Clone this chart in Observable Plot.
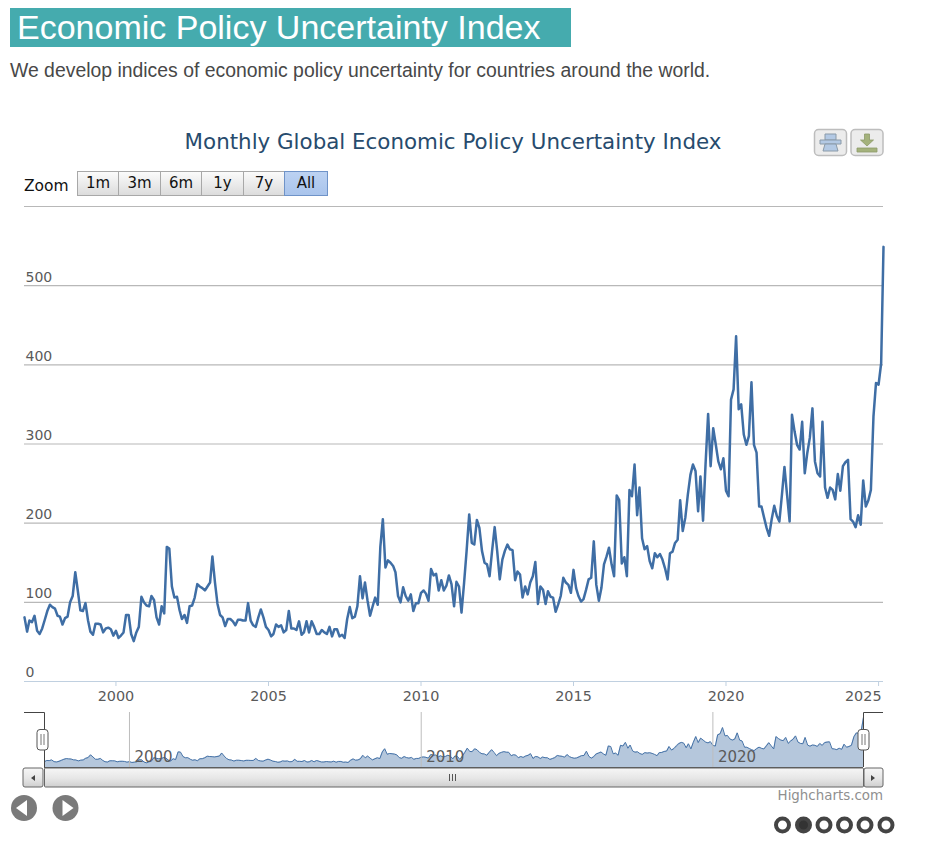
<!DOCTYPE html>
<html><head><meta charset="utf-8">
<script src="https://cdn.jsdelivr.net/npm/d3@7"></script>
<script src="https://cdn.jsdelivr.net/npm/@observablehq/plot@0.6"></script>
<style>
html,body{margin:0;padding:0;background:#fff;}
body{width:936px;height:849px;position:relative;overflow:hidden;font-family:"DejaVu Sans",sans-serif;}
.abs{position:absolute;}
#head{left:10px;top:8px;width:561px;height:39px;background:#45abae;color:#fff;font:34px/39px "Liberation Sans",sans-serif;padding-left:7px;box-sizing:border-box;white-space:nowrap;}
#sub{left:10px;top:59px;color:#484848;font:19.4px/22px "Liberation Sans",sans-serif;white-space:nowrap;}
#title{left:0;top:129px;width:906px;text-align:center;color:#274b6d;font-size:21.4px;line-height:26px;white-space:nowrap;}
#zoomlab{left:24px;top:176px;font-size:15.5px;line-height:20px;color:#111;}
.btn{top:171px;height:25px;box-sizing:border-box;border:1px solid #a8a8a8;background:linear-gradient(#fbfbfb,#dcdcdc);font-size:15px;line-height:23px;text-align:center;color:#111;}
.btn.on{background:linear-gradient(#bcd2f2,#a9c4ec);border-color:#6f93c8;}
#credit{right:53px;top:788px;color:#8f8f8f;font-size:13.4px;line-height:16px;white-space:nowrap;}
.abs svg{display:block;}
</style></head><body>
<div class="abs" id="head">Economic Policy Uncertainty Index</div>
<div class="abs" id="sub">We develop indices of economic policy uncertainty for countries around the world.</div>
<div class="abs" id="title">Monthly Global Economic Policy Uncertainty Index</div>
<div class="abs" id="zoomlab">Zoom</div>
<div id="btns"></div>
<div class="abs" id="main" style="left:0;top:194.5px"></div>
<div class="abs" id="nav" style="left:0;top:705px"></div>
<svg class="abs" style="left:0;top:0;pointer-events:none" width="936" height="849" id="chrome">
  <defs>
    <linearGradient id="sb" x1="0" x2="0" y1="0" y2="1"><stop offset="0" stop-color="#f6f6f6"/><stop offset="0.55" stop-color="#e6e6e6"/><stop offset="1" stop-color="#cfcfcf"/></linearGradient>
  </defs>
  <!-- export buttons -->
  <g fill="none" stroke="#bdbdbd" stroke-width="1.5">
    <rect x="814.5" y="129.5" width="32" height="26" rx="4" fill="#ececec"/>
    <rect x="851" y="129.5" width="32" height="26" rx="4" fill="#ececec"/>
  </g>
  <g stroke="#8a9aa8" stroke-width="1" fill="#b3c9e4">
    <path d="M825 134h11v6h-11z"/><path d="M820 140h21v4h-21z"/><path d="M825 144h11l2 7h-15z"/>
  </g>
  <g fill="#a4b27c" stroke="#8d9a6a" stroke-width="0.8">
    <path d="M864.5 134h5v6h4l-6.5 6-6.500-6h4z"/><path d="M857 148h20v4h-20z"/>
  </g>
  <!-- navigator outline -->
  <path d="M24 712.500H44.500V767" fill="none" stroke="#444" stroke-width="1"/>
  <path d="M863.500 767V712.500H883" fill="none" stroke="#444" stroke-width="1"/>
  <path d="M44 767.500H863" stroke="#555" stroke-width="1"/>
  <!-- scrollbar -->
  <rect x="44.500" y="768" width="819" height="19" rx="1" fill="url(#sb)" stroke="#666"/>
  <rect x="23" y="768" width="20" height="19" rx="2" fill="url(#sb)" stroke="#666"/>
  <rect x="864" y="768" width="19" height="19" rx="2" fill="url(#sb)" stroke="#666"/>
  <path d="M35 775v6l-4-3z M871 775v6l4-3z" fill="#444"/>
  <path d="M449.500 774v7M452.500 774v7M455.500 774v7" stroke="#555" stroke-width="1"/>
  <!-- handles -->
  <g fill="#fff" stroke="#555" stroke-width="1">
    <rect x="37" y="729.500" width="11" height="20.500" rx="3"/>
    <rect x="858" y="729.500" width="11" height="20.500" rx="3"/>
  </g>
  <path d="M41 734v11M44 734v11M862 734v11M865 734v11" stroke="#777" stroke-width="1"/>
  <!-- slideshow arrows -->
  <circle cx="24" cy="808" r="13" fill="#7a7a7a"/><path d="M16 808l11-8v16z" fill="#fff"/>
  <circle cx="65.500" cy="808" r="13" fill="#7a7a7a"/><path d="M73.500 808l-11-8v16z" fill="#fff"/>
  <!-- slideshow dots -->
  <g fill="#fff" stroke="#444" stroke-width="4">
    <circle cx="782.500" cy="825" r="6.500"/><circle cx="803.500" cy="825" r="6.500" fill="#333"/><circle cx="824" cy="825" r="6.500"/>
    <circle cx="844.500" cy="825" r="6.500"/><circle cx="865" cy="825" r="6.500"/><circle cx="886" cy="825" r="6.500"/>
  </g>
</svg>
<div class="abs" id="credit">Highcharts.com</div>
<script>
// Monthly index values
const v1997 = [81,63,77,75,83,64,60,67,78,89,97,94];
const v1998 = [92,83,82,72,80,82,100,108,138,115,90,89];
const v1999 = [99,77,63,59,73,73,72,62,67,68,66,58];
const v2000 = [64,55,58,62,84,84,60,51,62,69,107,100];
const v2001 = [96,95,108,103,81,72,95,86,170,168,120,106];
const v2002 = [107,90,79,84,74,95,96,106,123,120,118,115];
const v2003 = [120,125,158,125,98,84,81,70,79,79,76,71];
const v2004 = [78,78,77,77,99,77,71,69,81,91,81,69];
const v2005 = [65,57,60,72,69,71,62,65,89,67,67,65];
const v2006 = [76,59,62,76,62,76,69,60,60,65,62,60];
const v2007 = [69,57,66,66,57,59,55,79,94,80,82,95];
const v2008 = [133,105,125,102,83,95,106,97,170,205,144,153];
const v2009 = [150,146,138,108,100,119,108,102,110,89,99,99];
const v2010 = [112,115,111,102,142,134,136,115,128,115,121,134];
const v2011 = [123,95,126,120,87,125,165,211,175,173,204,194];
const v2012 = [165,150,148,133,165,195,165,129,154,165,173,167];
const v2013 = [166,128,139,135,106,120,110,125,133,151,98,120];
const v2014 = [116,98,114,107,106,88,97,108,131,125,122,112];
const v2015 = [141,118,108,101,104,116,129,131,177,122,102,118];
const v2016 = [148,158,169,148,133,235,229,149,157,133,242,234];
const v2017 = [274,210,245,181,167,171,152,143,162,157,161,154];
const v2018 = [143,129,162,164,175,179,229,190,207,236,261,274];
const v2019 = [266,215,259,203,274,338,272,320,299,278,268,282];
const v2020 = [241,234,356,369,436,344,350,312,299,310,378,299];
const v2021 = [289,221,221,207,194,184,205,222,209,202,236,271];
const v2022 = [236,202,337,316,299,293,328,263,289,308,345,278];
const v2023 = [263,259,328,245,232,245,242,230,262,241,272,277];
const v2024 = [280,205,202,195,210,198,254,221,229,242,335,377];
const v2025 = [375,402,549];

const yearlyValues = [v1997,v1998,v1999,v2000,v2001,v2002,v2003,v2004,v2005,v2006,v2007,v2008,v2009,v2010,v2011,v2012,v2013,v2014,v2015,v2016,v2017,v2018,v2019,v2020,v2021,v2022,v2023,v2024,v2025];
const firstYear = 1997;
const yTicks = [0,100,200,300,400,500];
const yGrid = [100,200,300,400,500,600];
const xTickYears = [2000,2005,2010,2015,2020];
const lastTickYear = 2025;
const navTickYears = [2000,2010,2020];
const zoomLabels = ["1m","3m","6m","1y","7y","All"];

const year = y => new Date(Date.UTC(y,0,1));
const series = yearlyValues.flatMap((vals,i) => vals.map((value,m) => ({date:new Date(Date.UTC(firstYear+i,m,1)), value})));
const xDomain = d3.extent(series, d => d.date);
const navDomain = [new Date(Date.UTC(firstYear,1,1)), xDomain[1]];

// range selector buttons
const edges = [76.7,118.3,160,201,243,284,327];
const btns = document.getElementById("btns");
zoomLabels.forEach((t,i) => {
  const b = document.createElement("div");
  b.className = "abs btn" + (t==="All" ? " on" : "");
  b.style.left = edges[i]+"px";
  b.style.width = (edges[i+1]-edges[i]+1)+"px";
  b.textContent = t;
  btns.appendChild(b);
});

const lineColor = "#3f6ea5";
const labelColor = "#5a5a5a";
const font = {fontFamily:"'DejaVu Sans',sans-serif"};
const yr = d => String(d.getUTCFullYear());
const allTicks = [...xTickYears, lastTickYear].map(year);

const main = Plot.plot({
  width:936, height:510,
  marginTop:11, marginBottom:24, marginLeft:24, marginRight:53,
  style:{...font, fontSize:"14px", background:"transparent"},
  x:{type:"utc", domain:xDomain, axis:null},
  y:{domain:[0,600], axis:null},
  marks:[
    Plot.ruleY(yGrid, {stroke:"#b8b8b8", strokeWidth:1.2}),
    Plot.ruleY([0], {stroke:"#c0d0e0", strokeWidth:1.2}),
    Plot.axisX({ticks:allTicks, tickFormat:()=>"", tickSize:5, stroke:"#c0d0e0", label:null}),
    Plot.text(xTickYears.map(year), {x:d=>d, frameAnchor:"bottom", textAnchor:"middle", dy:19, text:yr, fill:labelColor, fontSize:14.4}),
    Plot.text([year(lastTickYear)], {x:d=>d, frameAnchor:"bottom", textAnchor:"end", dx:3, dy:19, text:yr, fill:labelColor, fontSize:14.4}),
    Plot.text(yTicks, {y:d=>d, frameAnchor:"left", textAnchor:"start", dx:1, dy:-8.5, text:d=>String(d), fill:labelColor, fontSize:14}),
    Plot.lineY(series, {x:"date", y:"value", stroke:lineColor, strokeWidth:2.5, strokeLinejoin:"round", curve:"linear"})
  ]
});
document.getElementById("main").appendChild(main);

const nav = Plot.plot({
  width:936, height:63,
  marginTop:7, marginBottom:1, marginLeft:44, marginRight:73,
  style:{...font, background:"transparent"},
  x:{type:"utc", domain:navDomain, axis:null},
  y:{domain:[0,600], axis:null},
  marks:[
    Plot.areaY(series, {x:"date", y:"value", fill:"#4572a7", fillOpacity:0.4, clip:true}),
    Plot.lineY(series, {x:"date", y:"value", stroke:"#4572a7", strokeWidth:1, clip:true}),
    Plot.ruleX(navTickYears.map(year), {stroke:"#bdbdbd", strokeWidth:1}),
    Plot.text(navTickYears.map(year), {x:d=>d, frameAnchor:"bottom", textAnchor:"start", dx:5, dy:-6, text:yr, fill:labelColor, fontSize:15})
  ]
});
document.getElementById("nav").appendChild(nav);
</script>
</body></html>
